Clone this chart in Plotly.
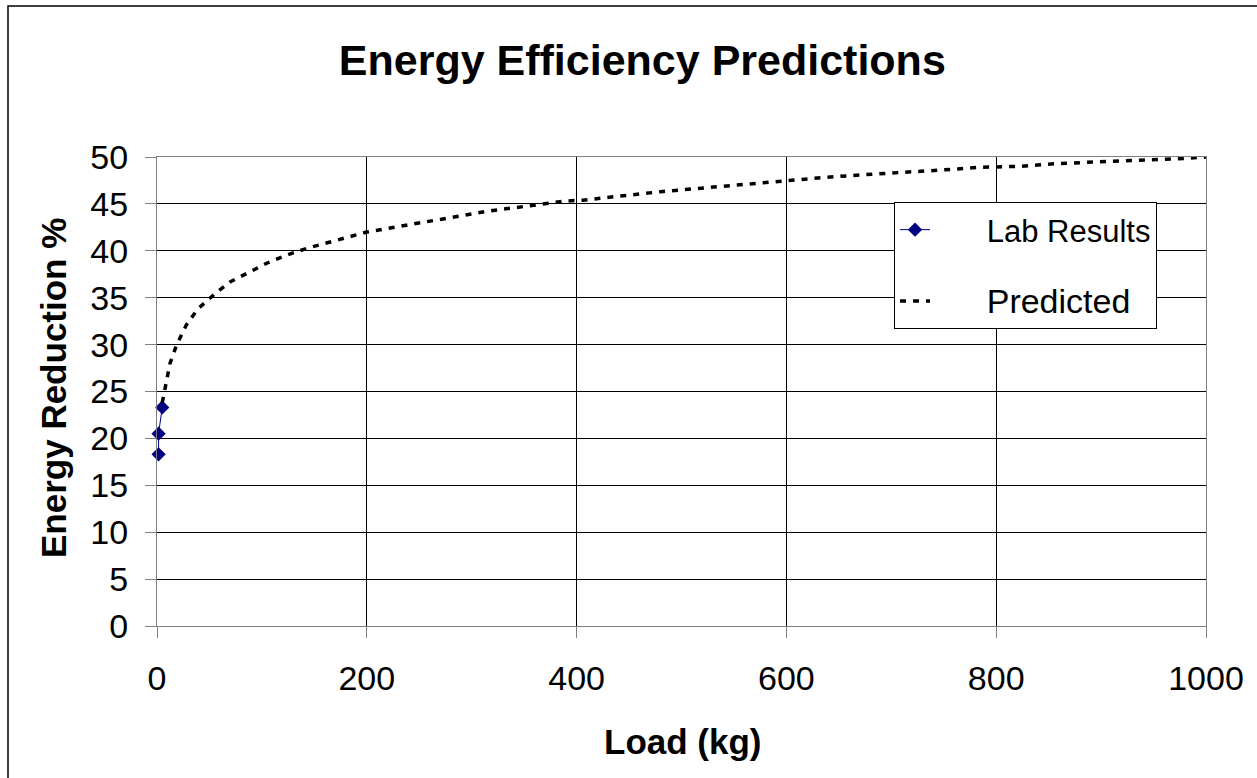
import plotly.graph_objects as go

# Data
lab_load = [1.5, 1.5, 5]
lab_reduction = [18.3, 20.5, 23.3]

pred_load = [5, 8.6, 12.4, 18.8, 28, 39, 55, 70, 87, 105, 125, 144, 200, 257, 314,
             389, 406, 480, 559, 596, 634, 672, 708, 746, 784, 822, 859, 897, 934, 972, 1000]
pred_reduction = [23.8, 25.8, 28.0, 30.0, 32.1, 33.8, 35.4, 36.7, 37.7, 38.7, 39.6, 40.3,
                  42.0, 43.1, 44.2, 45.3, 45.4, 46.3, 47.1, 47.5, 47.8, 48.1, 48.3, 48.6,
                  48.9, 49.0, 49.3, 49.5, 49.65, 49.8, 50.0]

x_ticks = [0, 200, 400, 600, 800, 1000]
y_ticks = [0, 5, 10, 15, 20, 25, 30, 35, 40, 45, 50]

FONT = "Liberation Sans, Arial, sans-serif"
PAD = "\u00a0" * 6

fig = go.Figure()
fig.add_trace(go.Scatter(
    x=lab_load, y=lab_reduction, mode="lines+markers", name=PAD + "Lab Results",
    line=dict(color="#000080", width=1),
    marker=dict(symbol="diamond", size=11, color="#000080"),
    cliponaxis=False, legendgroup="a"))
fig.add_trace(go.Scatter(
    x=pred_load, y=pred_reduction, mode="lines",
    name=PAD + "<span style='font-size:34px'>Predicted</span>",
    line=dict(color="black", width=3.5, dash="6px,7px"), legendgroup="b"))

axis_common = dict(
    showgrid=True, gridcolor="black", gridwidth=1,
    showline=True, linecolor="#808080", linewidth=1, mirror=True,
    ticks="outside", ticklen=11, tickcolor="#808080",
    tickfont=dict(family=FONT, size=34, color="black"),
    zeroline=False,
)

fig.update_layout(
    width=1257, height=778,
    margin=dict(l=157, r=51, t=157, b=152),
    paper_bgcolor="white", plot_bgcolor="white",
    title=dict(text="<b>Energy Efficiency Predictions</b>",
               font=dict(family=FONT, size=43, color="black"),
               x=0.511, xanchor="center", xref="container",
               y=1 - 60 / 778, yanchor="middle", yref="container"),
    xaxis=dict(range=[0, 1000], tickvals=x_ticks, ticklabelstandoff=11, **axis_common),
    yaxis=dict(range=[0, 50], tickvals=y_ticks, ticklabelstandoff=10, **axis_common),
    legend=dict(x=0.7026, y=(626 - 202) / 469, xanchor="left", yanchor="top",
                bgcolor="white", bordercolor="black", borderwidth=1,
                font=dict(family=FONT, size=31, color="black"),
                tracegroupgap=28, entrywidth=230),
    showlegend=True,
    annotations=[
        dict(text="<b>Load (kg)</b>", xref="paper", yref="paper",
             x=(682 - 157) / 1049, y=(626 - 741) / 469, xanchor="center", yanchor="middle",
             showarrow=False, font=dict(family=FONT, size=35, color="black")),
        dict(text="<b>Energy Reduction %</b>", xref="paper", yref="paper",
             x=(53 - 157) / 1049, y=(626 - 388) / 469, xanchor="center", yanchor="middle",
             textangle=-90, showarrow=False,
             font=dict(family=FONT, size=35, color="black")),
    ],
    shapes=[
        dict(type="rect", xref="paper", yref="paper",
             x0=(8 - 157) / 1049, x1=(1270 - 157) / 1049,
             y0=(626 - 790) / 469, y1=(626 - 6) / 469,
             line=dict(color="black", width=1.5), layer="below"),
    ],
)

fig.write_html("out.html")
